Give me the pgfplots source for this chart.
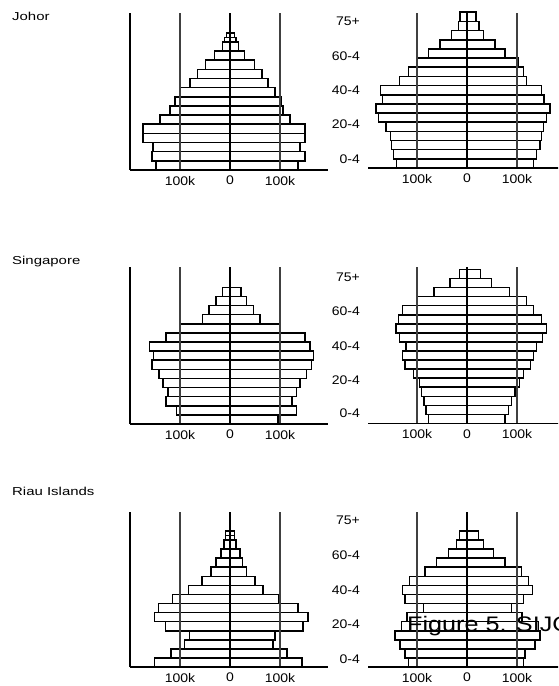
\documentclass[border=0pt]{standalone}
\usepackage{fontspec}
\setmainfont{Liberation Sans}
\newfontfamily\labfont[FakeStretch=1.12]{Liberation Sans}
\newfontfamily\sidefont[FakeStretch=1.3]{Liberation Sans}
\newfontfamily\figfont[FakeStretch=1.2]{Liberation Sans}
\newcommand\lab{\labfont\fontsize{12.5}{14}\selectfont}
\newcommand\side{\sidefont\fontsize{11.5}{13}\selectfont}
\usepackage{pgfplots}
\pgfplotsset{compat=1.18}
\pgfplotsset{
 pyr/.style={
  scale only axis,
  xbar, bar shift=0pt, bar width=1,
  ymin=0,
  xtick={-100,100}, xticklabels={100k,100k},
  extra x ticks={0}, extra x tick labels={0},
  extra x tick style={grid style={draw=black, line width=1.5pt}},
  ytick=\empty,
  xmajorgrids, grid style={draw=black!75, line width=1.2pt},
  axis on top,
  major tick length=0pt,
  xticklabel style={font=\lab, inner sep=0pt, yshift=-6pt, anchor=north},
  axis x line*=bottom,
  axis line style={-, line width=1.3pt, black},
  clip=false,
  cycle list={{fill=white, draw=black}},
  every axis plot post/.append style={line width=1.6pt, line join=miter},
 },
 pyrL/.style={pyr, xmin=-200, xmax=196, width=198pt, axis y line*=left},
 pyrR/.style={pyr, xmin=-198, xmax=200, width=199pt, axis y line=none},
}
\begin{document}
\begin{tikzpicture}[x=1pt,y=1pt]
\path[use as bounding box] (0,0) rectangle (558,686);
\begin{scope}
\clip (0,0) rectangle (558,686);
% ---------------- Johor ----------------
\begin{axis}[pyrL, at={(130pt,516pt)}, anchor=south west, height=157pt, ymax=17.16]
\addplot coordinates {(-148,0.5) (-156,1.5) (-154,2.5) (-174,3.5) (-174,4.5) (-140,5.5) (-120,6.5) (-110,7.5) (-100,8.5) (-80,9.5) (-65,10.5) (-49,11.5) (-31,12.5) (-15,13.5)};
\addplot coordinates {(136,0.5) (150,1.5) (140,2.5) (150,3.5) (150,4.5) (120,5.5) (106,6.5) (103,7.5) (90,8.5) (76,9.5) (64,10.5) (49,11.5) (29,12.5) (17,13.5)};
\addplot+[bar width=0.5] coordinates {(-11,14.25) (-7,14.75)};
\addplot+[bar width=0.5] coordinates {(12,14.25) (9,14.75)};
\end{axis}
\begin{axis}[pyrR, at={(368pt,518pt)}, anchor=south west, height=155pt, ymax=16.92]
\addplot coordinates {(-141,0.5) (-147,1.5) (-151,2.5) (-153,3.5) (-162,4.5) (-177,5.5) (-182,6.5) (-169,7.5) (-173,8.5) (-135,9.5) (-117,10.5) (-99,11.5) (-77,12.5) (-54,13.5) (-31,14.5) (-17,15.5) (-14,16.5)};
\addplot coordinates {(133,0.5) (139,1.5) (146,2.5) (149,3.5) (153,4.5) (159,5.5) (166,6.5) (154,7.5) (149,8.5) (119,9.5) (113,10.5) (103,11.5) (76,12.5) (56,13.5) (33,14.5) (24,15.5) (18,16.5)};
\end{axis}
% ---------------- Singapore ----------------
\begin{axis}[pyrL, at={(130pt,262pt)}, anchor=south west, height=157pt, ymax=17.23]
\addplot coordinates {(-99,0.5) (-107,1.5) (-128,2.5) (-124,3.5) (-134,4.5) (-142,5.5) (-156,6.5) (-153,7.5) (-161,8.5) (-128,9.5) (-99,10.5) (-55,11.5) (-42,12.5) (-28,13.5) (-15,14.5)};
\addplot coordinates {(96,0.5) (133,1.5) (124,2.5) (133,3.5) (140,4.5) (153,5.5) (163,6.5) (167,7.5) (160,8.5) (150,9.5) (99,10.5) (60,11.5) (47,12.5) (33,13.5) (22,14.5)};
\end{axis}
\begin{axis}[pyrR, at={(368pt,262.5pt)}, anchor=south west, height=156.5pt, ymax=17.27]
\addplot coordinates {(-77,0.5) (-82,1.5) (-86,2.5) (-91,3.5) (-95,4.5) (-107,5.5) (-124,6.5) (-129,7.5) (-122,8.5) (-135,9.5) (-142,10.5) (-137,11.5) (-129,12.5) (-99,13.5) (-66,14.5) (-34,15.5) (-15,16.5)};
\addplot coordinates {(76,0.5) (83,1.5) (89,2.5) (96,3.5) (105,4.5) (113,5.5) (127,6.5) (133,7.5) (139,8.5) (151,9.5) (159,10.5) (149,11.5) (133,12.5) (119,13.5) (85,14.5) (49,15.5) (27,16.5)};
\end{axis}
% ---------------- Riau Islands ----------------
\begin{axis}[pyrL, at={(130pt,19pt)}, anchor=south west, height=155pt, ymax=17.09]
\addplot coordinates {(-151,0.5) (-118,1.5) (-91,2.5) (-81,3.5) (-129,4.5) (-151,5.5) (-143,6.5) (-115,7.5) (-83,8.5) (-56,9.5) (-38,10.5) (-28,11.5) (-18,12.5) (-12,13.5)};
\addplot coordinates {(144,0.5) (114,1.5) (86,2.5) (90,3.5) (146,4.5) (156,5.5) (136,6.5) (98,7.5) (66,8.5) (50,9.5) (33,10.5) (25,11.5) (20,12.5) (12,13.5)};
\addplot+[bar width=0.5] coordinates {(-9,14.25) (-9,14.75)};
\addplot+[bar width=0.5] coordinates {(9,14.25) (9,14.75)};
\end{axis}
\begin{axis}[pyrR, at={(368pt,19pt)}, anchor=south west, height=155pt, ymax=17.09]
\addplot coordinates {(-117,0.5) (-124,1.5) (-134,2.5) (-144,3.5) (-131,4.5) (-120,5.5) (-87,6.5) (-124,7.5) (-129,8.5) (-115,9.5) (-84,10.5) (-61,11.5) (-37,12.5) (-21,13.5) (-15,14.5)};
\addplot coordinates {(113,0.5) (116,1.5) (136,2.5) (146,3.5) (143,4.5) (110,5.5) (89,6.5) (113,7.5) (131,8.5) (123,9.5) (109,10.5) (76,11.5) (53,12.5) (33,13.5) (23,14.5)};
\end{axis}
% ---------------- labels ----------------
\foreach \yy/\t in {21/75+, 56/60-4, 90/40-4, 124/20-4, 159/0-4,
                    277/75+, 311/60-4, 346/40-4, 380/20-4, 413/0-4,
                    520/75+, 555/60-4, 590/40-4, 624/20-4, 659/0-4}
  \node[anchor=east, inner sep=0pt] at (360,686-\yy) {\lab \t};
\node[anchor=west, inner sep=0pt] at (12,686-16) {\side Johor};
\node[anchor=west, inner sep=0pt] at (12,686-262) {\side Singapore};
\node[anchor=west, inner sep=0pt] at (12,686-491) {\side Riau Islands};
\node[anchor=base west, inner sep=0pt] at (407,686-632) {\figfont\fontsize{21}{24}\selectfont Figure 5. SIJORI Growth Triangle};
\end{scope}
\end{tikzpicture}
\end{document}
